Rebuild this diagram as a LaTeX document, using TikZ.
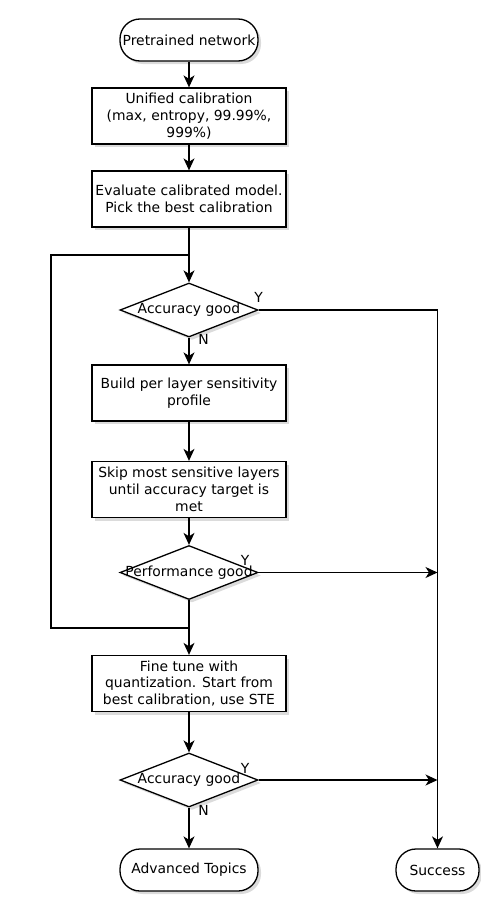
\documentclass[tikz,border=0pt]{standalone}
\usepackage{fontspec}
\setmainfont{DejaVu Sans}
\usetikzlibrary{shapes.geometric,shadows,arrows.meta}
\begin{document}
\begin{tikzpicture}[x=1pt,y=-1pt]

        % Styles
        \tikzstyle{every node}=[font=\fontsize{13.9}{16.7}\selectfont]
        \tikzstyle{flow line}=[line width=1.3pt]
        \tikzstyle{flow arrow}=[flow line,-{Stealth[length=12pt,width=11pt,inset=3.5pt]}]
        \tikzstyle{box shadow}=[drop shadow={shadow xshift=3pt,shadow yshift=-3pt,fill=black!28}]
        \tikzstyle{process}=[rectangle,draw,line width=1.3pt,fill=white,box shadow,minimum width=194pt,minimum height=56pt,inner sep=0pt,align=center]
        \tikzstyle{decision}=[diamond,draw,line width=1.3pt,fill=white,box shadow,minimum width=138pt,minimum height=54pt,inner sep=0pt]
        \tikzstyle{terminal}=[rectangle,rounded corners=20pt,draw,line width=1.3pt,fill=white,box shadow,minimum width=138pt,minimum height=42pt,inner sep=1pt]
        \tikzstyle{branch}=[inner sep=0pt]
        \useasboundingbox (0,0) rectangle (480,910);
        %The graphic
        %main column
        \node[terminal] (pretrained) at (189,40) {Pretrained network};
        \node[process] (unified) at (189,116) {Unified calibration\\(max, entropy, 99.99\%,\\999\%)};
        \node[process] (evaluate) at (189,199) {Evaluate calibrated model.\\Pick the best calibration};
        \node[decision,label=center:Accuracy good] (accuracy) at (189,310) {};
        \node[process] (profile) at (189,393) {Build per layer sensitivity\\profile};
        \node[process] (skip) at (189,489.5) {Skip most sensitive layers\\until accuracy target is\\met};
        \node[decision,label=center:Performance good] (performance) at (189,572.5) {};
        \node[process] (finetune) at (189,683.5) {Fine tune with\\quantization. Start from\\best calibration, use STE};
        \node[decision,label=center:Accuracy good] (accuracyft) at (189,780) {};
        \node[terminal] (advanced) at (189,870) {Advanced Topics};
        \node[terminal,minimum width=83pt] (success) at (437.5,870) {Success};
        %branch labels
        \node[branch] (accuracy y) at (258.5,297) {Y};
        \node[branch] (accuracy n) at (203.5,339) {N};
        \node[branch] (performance y) at (245,560) {Y};
        \node[branch] (accuracyft y) at (245,768) {Y};
        \node[branch] (accuracyft n) at (203.5,810) {N};
        %loop corners
        \coordinate (loop top) at (51,255);
        \coordinate (loop bottom) at (51,628);
        %connectors
        \draw[flow arrow] (pretrained) -- (unified);
        \draw[flow arrow] (unified) -- (evaluate);
        \draw[flow arrow] (evaluate) -- (accuracy);
        \draw[flow arrow] (accuracy) -- (profile);
        \draw[flow arrow] (profile) -- (skip);
        \draw[flow arrow] (skip) -- (performance);
        \draw[flow arrow] (performance) -- (finetune);
        \draw[flow arrow] (finetune) -- (accuracyft);
        \draw[flow arrow] (accuracyft) -- (advanced);
        \draw[flow arrow] (accuracy.east) -| (success.north);
        \draw[flow arrow] (performance.east) -- (performance.east -| success);
        \draw[flow arrow] (accuracyft.east) -- (accuracyft.east -| success);
        \draw[flow line] (performance.south |- loop bottom) -- (loop bottom) -- (loop top) -- (evaluate.south |- loop top);
\end{tikzpicture}
\end{document}
